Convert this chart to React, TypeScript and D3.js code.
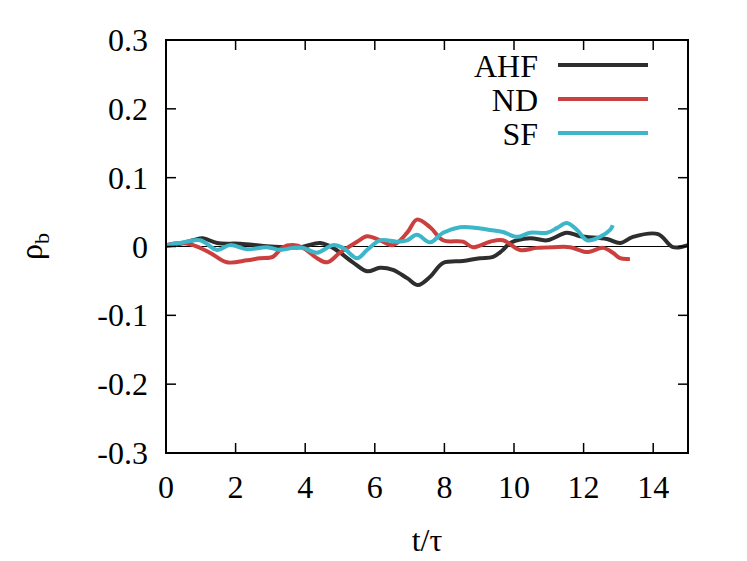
import React, { useEffect, useRef } from 'react';
import * as d3 from 'd3';

// values: [t/tau, rho_b]
const ahf: [number, number][] = [
  [0, 0.001], [0.4, 0.004], [0.78, 0.009], [1.06, 0.012], [1.47, 0.005], [2.13, 0.004],
  [2.99, 0.0], [3.85, -0.001], [4.43, 0.005], [4.8, -0.002], [5.37, -0.023], [5.78, -0.036],
  [6.15, -0.031], [6.52, -0.034], [6.93, -0.046], [7.24, -0.056], [7.59, -0.044], [7.96, -0.024],
  [8.53, -0.021], [9.02, -0.017], [9.4, -0.015], [9.68, -0.005], [9.89, 0.005], [10.46, 0.012],
  [10.95, 0.009], [11.52, 0.02], [11.9, 0.015], [12.67, 0.011], [13.05, 0.005], [13.42, 0.014],
  [14.14, 0.018], [14.57, -0.001], [15.0, 0.002],
];
const nd: [number, number][] = [
  [0, 0.002], [0.4, 0.005], [0.78, 0.002], [1.26, -0.009], [1.75, -0.023], [2.33, -0.02],
  [2.7, -0.017], [3.07, -0.015], [3.36, -0.001], [3.65, 0.002], [3.94, -0.002], [4.34, -0.017],
  [4.63, -0.023], [5.0, -0.009], [5.49, 0.007], [5.78, 0.015], [6.15, 0.009], [6.52, 0.002],
  [6.93, 0.02], [7.21, 0.039], [7.59, 0.028], [7.96, 0.009], [8.53, 0.007], [8.82, -0.001],
  [9.31, 0.007], [9.68, 0.009], [10.17, -0.005], [10.66, -0.002], [11.12, -0.001], [11.61, -0.001],
  [12.1, -0.008], [12.56, -0.002], [12.84, -0.009], [13.05, -0.017], [13.33, -0.018],
];
const sf: [number, number][] = [
  [0, 0.002], [0.4, 0.005], [0.98, 0.009], [1.47, -0.005], [1.84, 0.002], [2.33, -0.004],
  [2.9, -0.001], [3.28, -0.005], [3.65, -0.002], [3.94, -0.002], [4.34, -0.009], [4.8, 0.002],
  [5.09, -0.002], [5.49, -0.017], [5.78, -0.005], [6.15, 0.009], [6.64, 0.007], [6.93, 0.009],
  [7.21, 0.017], [7.59, 0.006], [7.96, 0.02], [8.45, 0.028], [8.94, 0.027], [9.31, 0.024],
  [9.68, 0.021], [10.09, 0.014], [10.46, 0.02], [10.95, 0.02], [11.24, 0.027], [11.52, 0.034],
  [11.81, 0.024], [12.1, 0.009], [12.47, 0.014], [12.76, 0.024], [12.84, 0.031],
];

const seriesNames = ['AHF', 'ND', 'SF'];
const seriesColors = ['#2e2e2e', '#cc3f3f', '#3cb6c8'];
const xTicks = [0, 2, 4, 6, 8, 10, 12, 14];
const yTicks = [-0.3, -0.2, -0.1, 0, 0.1, 0.2, 0.3];
const yTickLabels = ['-0.3', '-0.2', '-0.1', '0', '0.1', '0.2', '0.3'];

const width = 747;
const height = 561;
const margin = { top: 40, right: 59, bottom: 108, left: 166 };
const fs = 32;
const tickLen = 10;
const F = "'Liberation Serif'";

export default function App() {
  const svgRef = useRef<SVGSVGElement>(null);

  useEffect(() => {
    // force the serif face on every label
    d3.select(svgRef.current).selectAll('text, tspan')
      .style('font-family', "'Liberation Serif', 'Times New Roman', Tinos, serif", 'important');
  }, []);

  const x = d3.scaleLinear().domain([0, 15]).range([margin.left, width - margin.right]);
  const y = d3.scaleLinear().domain([-0.3, 0.3]).range([height - margin.bottom, margin.top]);

  const line = d3.line<[number, number]>()
    .x(d => x(d[0]))
    .y(d => y(d[1]))
    .curve(d3.curveCatmullRom);

  const x0 = x(0), x1 = x(15), yb = y(-0.3), yt = y(0.3);

  return (
    <svg ref={svgRef} width={width} height={height}
      style={{ display: 'block', position: 'absolute', left: 0, top: 0 }}>
      <style>{"svg text, svg tspan { font-family: 'Liberation Serif', 'Times New Roman', Tinos, serif !important; }"}</style>
      {/* zero line */}
      <line x1={x0} x2={x1} y1={y(0)} y2={y(0)} stroke="#000" strokeWidth={1.2} />

      {[ahf, nd, sf].map((data, i) => (
        <path key={i} d={line(data) || ''} fill="none" stroke={seriesColors[i]}
          strokeWidth={4} strokeLinejoin="round" />
      ))}

      {/* ticks, inside and mirrored */}
      {xTicks.map(t => (
        <g key={'x' + t}>
          <line x1={x(t)} x2={x(t)} y1={yb} y2={yb - tickLen} stroke="#000" strokeWidth={1.5} />
          <line x1={x(t)} x2={x(t)} y1={yt} y2={yt + tickLen} stroke="#000" strokeWidth={1.5} />
        </g>
      ))}
      {yTicks.map((v, i) => (
        <g key={'y' + i}>
          <line x1={x0} x2={x0 + tickLen} y1={y(v)} y2={y(v)} stroke="#000" strokeWidth={1.5} />
          <line x1={x1} x2={x1 - tickLen} y1={y(v)} y2={y(v)} stroke="#000" strokeWidth={1.5} />
        </g>
      ))}
      {xTicks.map(t => (
        <text key={'xl' + t} x={x(t)} y={yb + 45} textAnchor="middle" fontSize={fs} fontFamily={F}>{t}</text>
      ))}
      {yTicks.map((v, i) => (
        <text key={'yl' + i} x={x0 - 18} y={y(v) + 11} textAnchor="end" fontSize={fs} fontFamily={F}>{yTickLabels[i]}</text>
      ))}

      {/* frame */}
      <rect x={x0} y={yt} width={x1 - x0} height={yb - yt} fill="none" stroke="#000" strokeWidth={2} />

      {/* axis labels */}
      <text x={x(7.5)} y={551} textAnchor="middle" fontSize={fs} fontFamily={F}>t/τ</text>
      <text transform={`translate(42,${y(0)}) rotate(-90)`} textAnchor="middle" fontSize={fs} fontFamily={F}>
        <tspan>ρ</tspan>
        <tspan dy={7} fontSize={22}>b</tspan>
      </text>

      {/* legend */}
      {seriesNames.map((name, i) => (
        <text key={'lt' + name} x={538} y={65 + i * 34 + 12} textAnchor="end" fontSize={fs} fontFamily={F}>{name}</text>
      ))}
      {seriesNames.map((name, i) => (
        <line key={'ll' + name} x1={558} x2={648} y1={65 + i * 34} y2={65 + i * 34}
          stroke={seriesColors[i]} strokeWidth={4} />
      ))}
    </svg>
  );
}
